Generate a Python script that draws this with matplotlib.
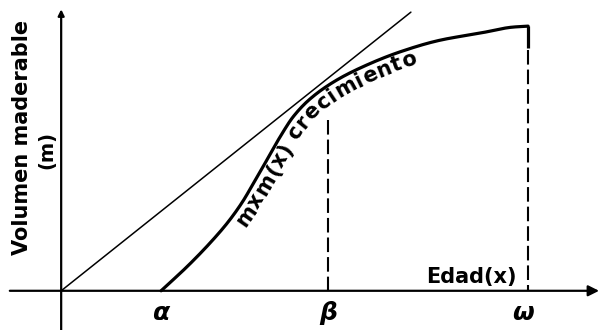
import numpy as np
import matplotlib
matplotlib.use("Agg")
import matplotlib.pyplot as plt
from matplotlib import font_manager as fm

# curva de volumen maderable m(x)
edad = [2.14, 2.72, 3.23, 3.58, 3.88, 4.15, 4.41, 4.69, 4.97, 5.33, 5.86,
        6.44, 7.26, 8.12, 8.97, 9.68, 10.0]
volumen = [0.00, 0.54, 1.07, 1.48, 1.90, 2.36, 2.81, 3.30, 3.73, 4.11, 4.49,
           4.79, 5.12, 5.37, 5.52, 5.65, 5.67]

# recta tangente desde el origen
tangente_x = [0.0, 7.49]
tangente_y = [0.0, 5.97]

alfa, beta, omega = 2.14, 5.72, 10.0
beta_altura = 3.66
marcas = ["α", "β", "ω"]


def pchip(x, y, n=25):
    # interpolacion monotona (Fritsch-Carlson) solo para dibujar suave
    x = np.asarray(x, float)
    y = np.asarray(y, float)
    h = np.diff(x)
    delta = np.diff(y) / h
    m = np.zeros_like(y)
    m[0], m[-1] = delta[0], delta[-1]
    for k in range(1, len(x) - 1):
        if delta[k - 1] * delta[k] > 0:
            w1 = 2 * h[k] + h[k - 1]
            w2 = h[k] + 2 * h[k - 1]
            m[k] = (w1 + w2) / (w1 / delta[k - 1] + w2 / delta[k])
    xs, ys = [], []
    for k in range(len(x) - 1):
        t = np.linspace(0, 1, n, endpoint=False)
        h00 = 2 * t ** 3 - 3 * t ** 2 + 1
        h10 = t ** 3 - 2 * t ** 2 + t
        h01 = -2 * t ** 3 + 3 * t ** 2
        h11 = t ** 3 - t ** 2
        xs.append(x[k] + t * h[k])
        ys.append(h00 * y[k] + h10 * h[k] * m[k] + h01 * y[k + 1] + h11 * h[k] * m[k + 1])
    xs.append([x[-1]])
    ys.append([y[-1]])
    return np.concatenate(xs), np.concatenate(ys)


fig = plt.figure(figsize=(6, 3.3), dpi=100)
ax = fig.add_axes([0, 0, 1, 1])
ax.set_xlim(-1.31, 11.54)
ax.set_ylim(-0.84, 6.23)
ax.axis("off")

# ejes con flecha
ax.annotate("", xy=(11.52, 0), xytext=(-1.1, 0),
            arrowprops=dict(arrowstyle="-|>", lw=1.6, color="k", mutation_scale=16,
                            shrinkA=0, shrinkB=0))
ax.annotate("", xy=(0, 6.03), xytext=(0, -0.84),
            arrowprops=dict(arrowstyle="-|>", lw=1.6, color="k", mutation_scale=9,
                            shrinkA=0, shrinkB=0))

ax.plot(tangente_x, tangente_y, color="k", lw=1.1, solid_capstyle="round")

xs, ys = pchip(edad, volumen)
ax.plot(xs, ys, color="k", lw=2.3, solid_capstyle="round", solid_joinstyle="round")

# caida al final de la curva y lineas de trazos
ax.plot([omega, omega], [volumen[-1], volumen[-1] - 0.47], color="k", lw=2.3,
        solid_capstyle="butt")
ax.plot([omega, omega], [volumen[-1] - 0.52, 0], color="k", lw=1.5, dashes=(7, 2.4))
ax.plot([beta, beta], [beta_altura, 0], color="k", lw=1.5, dashes=(7, 2.4))

# textos
ax.text(-0.84, 3.28, "Volumen maderable", rotation=90, ha="center", va="center",
        fontsize=15, fontweight="bold")
ax.text(-0.30, 3.02, "(m)", rotation=90, ha="center", va="center",
        fontsize=14, fontweight="bold")
ax.text(8.78, 0.30, "Edad(x)", ha="center", va="center", fontsize=15, fontweight="bold")

for pos, lab in zip([alfa, beta, omega - 0.1], marcas):
    ax.text(pos, -0.47, lab, ha="center", va="center", fontsize=18,
            fontweight="bold", fontstyle="italic")

# texto curvo a lo largo de la curva
texto = "mxm(x) crecimiento"
tam = 15
renderer = fig.canvas.get_renderer()
prop = fm.FontProperties(size=tam, weight="bold")
P = ax.transData.transform(np.c_[xs, ys])
d = np.gradient(P, axis=0)
d /= np.linalg.norm(d, axis=1)[:, None]
normal = np.c_[d[:, 1], -d[:, 0]]
B = P + 17 * normal
s = np.r_[0, np.cumsum(np.linalg.norm(np.diff(B, axis=0), axis=1))]
ang = np.degrees(np.arctan2(d[:, 1], d[:, 0]))
s_pos = np.interp(3.64, xs, s)
for ch in texto:
    if ch == " ":
        w = 0.33 * tam * 100 / 72
    else:
        w, _, _ = renderer.get_text_width_height_descent(ch, prop, ismath=False)
        w += 0.8
    sc = s_pos + w / 2
    bx = np.interp(sc, s, B[:, 0])
    by = np.interp(sc, s, B[:, 1])
    a = np.interp(sc, s, ang)
    if ch != " ":
        dx, dy = ax.transData.inverted().transform((bx, by))
        ax.text(dx, dy, ch, fontproperties=prop, rotation=a, rotation_mode="anchor",
                ha="center", va="baseline")
    s_pos += w

fig.savefig("out.png", dpi=100)
